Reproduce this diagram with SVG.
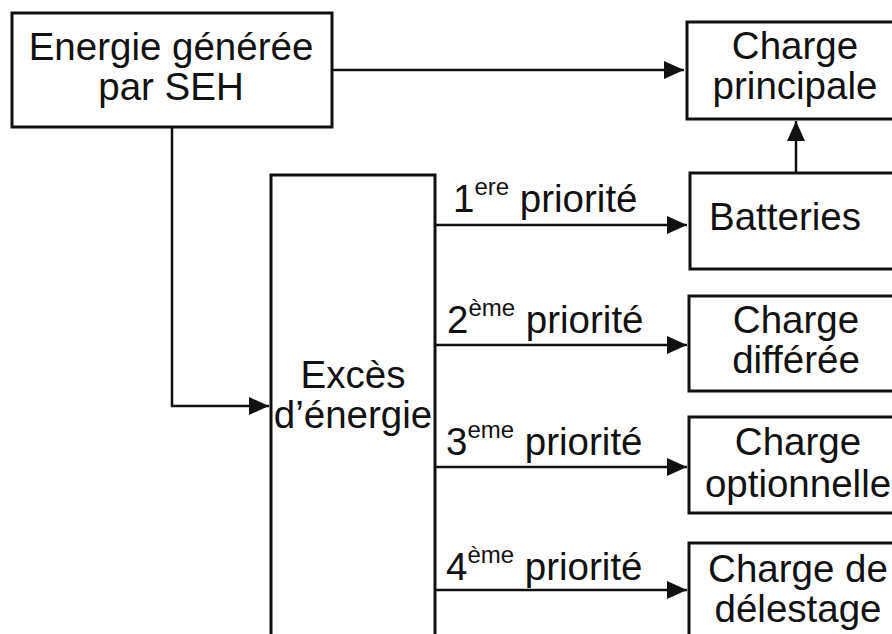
<svg xmlns="http://www.w3.org/2000/svg" width="892" height="634" viewBox="0 0 892 634">
<style>
.box{fill:#fff;stroke:#111;stroke-width:3}
.ln{fill:none;stroke:#111;stroke-width:2.5}
text{font-family:"Liberation Sans",Arial,sans-serif;font-size:38.5px;fill:#111}
.c{text-anchor:middle}
.sup{font-size:24px}
</style>
<defs>
<marker id="ah" markerUnits="userSpaceOnUse" markerWidth="22" markerHeight="20" refX="20" refY="10" orient="auto">
<path d="M0,1 L20,10 L0,19 Z" fill="#111"/>
</marker>
</defs>
<rect width="892" height="634" fill="#fff"/>
<g id="connectors">
<path class="ln" d="M332,70 H684" marker-end="url(#ah)"/>
<path class="ln" d="M796,173 V121" marker-end="url(#ah)"/>
<path class="ln" d="M172,128 V406 H269" marker-end="url(#ah)"/>
<path class="ln" d="M435,225 H687" marker-end="url(#ah)"/>
<path class="ln" d="M435,345 H687" marker-end="url(#ah)"/>
<path class="ln" d="M435,467 H687" marker-end="url(#ah)"/>
<path class="ln" d="M435,590 H687" marker-end="url(#ah)"/>
</g>
<g id="labels">
<text x="453" y="212">1<tspan class="sup" dy="-17">ere</tspan><tspan dy="17"> priorité</tspan></text>
<text x="447" y="333">2<tspan class="sup" dy="-17">ème</tspan><tspan dy="17"> priorité</tspan></text>
<text x="446" y="455">3<tspan class="sup" dy="-17">eme</tspan><tspan dy="17"> priorité</tspan></text>
<text x="446" y="580">4<tspan class="sup" dy="-17">ème</tspan><tspan dy="17"> priorité</tspan></text>
</g>
<g id="source">
<rect class="box" x="12" y="13" width="320" height="114"/>
<text class="c" x="171" y="60">Energie générée</text>
<text class="c" x="171" y="100">par SEH</text>
</g>
<g id="principale">
<rect class="box" x="687" y="22" width="220" height="97"/>
<text class="c" x="795" y="59">Charge</text>
<text class="c" x="795" y="99">principale</text>
</g>
<g id="exces">
<rect class="box" x="271" y="175" width="164" height="470"/>
<text class="c" x="353" y="388">Excès</text>
<text class="c" x="353" y="428">d’énergie</text>
</g>
<g id="batteries">
<rect class="box" x="690" y="173" width="216" height="96"/>
<text x="709" y="230">Batteries</text>
</g>
<g id="differee">
<rect class="box" x="689" y="296" width="216" height="95"/>
<text class="c" x="796" y="333">Charge</text>
<text class="c" x="796" y="373">différée</text>
</g>
<g id="optionnelle">
<rect class="box" x="689" y="417" width="216" height="96"/>
<text class="c" x="798" y="455">Charge</text>
<text class="c" x="798" y="497">optionnelle</text>
</g>
<g id="delestage">
<rect class="box" x="689" y="543" width="216" height="110"/>
<text class="c" x="798" y="582">Charge de</text>
<text class="c" x="798" y="622">délestage</text>
</g>
</svg>
